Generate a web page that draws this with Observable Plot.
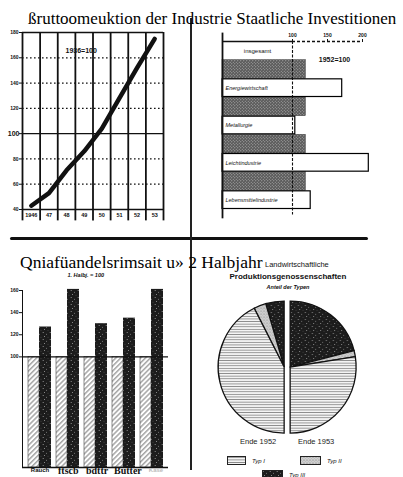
<!DOCTYPE html>
<html><head><meta charset="utf-8">
<script src="https://cdn.jsdelivr.net/npm/d3@7"></script>
<script src="https://cdn.jsdelivr.net/npm/@observablehq/plot@0.6"></script>
<style>
body{margin:0;background:#fff;}
#wrap{position:relative;width:403px;height:477px;overflow:hidden;background:#fff;font-family:"Liberation Sans",sans-serif;color:#111;}
#wrap > svg, #wrap > div{position:absolute;}
.ttl{font-family:"Liberation Serif",serif;white-space:nowrap;line-height:1;color:#000;z-index:5;}
.sub{white-space:nowrap;text-align:center;line-height:1;}
</style></head><body>
<svg width="0" height="0" style="position:absolute">
 <defs>
  <pattern id="hatch" patternUnits="userSpaceOnUse" width="3.5" height="3.5" patternTransform="rotate(45)">
    <rect width="3.5" height="3.5" fill="#fff"/>
    <line x1="0.8" y1="0" x2="0.8" y2="3.5" stroke="#777" stroke-width="1"/>
  </pattern>
  <pattern id="darkStip" patternUnits="userSpaceOnUse" width="7" height="7">
    <rect width="7" height="7" fill="#1c1c1c"/>
    <circle cx="1.2" cy="1.5" r="0.6" fill="#9a9a9a"/>
    <circle cx="4.5" cy="3.2" r="0.5" fill="#8a8a8a"/>
    <circle cx="2.5" cy="5.6" r="0.5" fill="#aaa"/>
    <circle cx="6" cy="6.2" r="0.4" fill="#777"/>
  </pattern>
  <pattern id="grayStip" patternUnits="userSpaceOnUse" width="3" height="3">
    <rect width="3" height="3" fill="#5a5a5a"/>
    <circle cx="0.8" cy="0.8" r="0.55" fill="#c8c8c8"/>
    <circle cx="2.3" cy="2.3" r="0.55" fill="#b0b0b0"/>
  </pattern>
  <pattern id="hlines" patternUnits="userSpaceOnUse" width="4" height="2.6">
    <rect width="4" height="2.6" fill="#f4f4f4"/>
    <line x1="0" y1="1.3" x2="4" y2="1.3" stroke="#8a8a8a" stroke-width="0.9"/>
  </pattern>
  <pattern id="lightStip" patternUnits="userSpaceOnUse" width="3" height="3">
    <rect width="3" height="3" fill="#d0d0d0"/>
    <circle cx="1" cy="1" r="0.6" fill="#777"/>
    <circle cx="2.4" cy="2.2" r="0.4" fill="#999"/>
  </pattern>
 </defs>
</svg>
<div id="wrap"></div>
<script>
// ---- data ----
const years = [1946, 1947, 1948, 1949, 1950, 1951, 1952, 1953];
const yearLabels = ["1946", "47", "48", "49", "50", "51", "52", "53"];
const production = [43, 53, 71, 86, 104, 128, 152, 175];
const prodTicks = [40, 60, 80, 100, 120, 140, 160, 180];

const invCategories = ["Energiewirtschaft", "Metallurgie", "Leichtindustrie", "Lebensmittelindustrie"];
const invValues = [171, 104, 209, 126];
const invTotal = 119;
const invTicks = [0, 100, 150, 200];

const tradeGoods = ["Rauch", "ftscb", "bdttr", "Butter", "Käse"];
const tradeFirstHalf = [100, 100, 100, 100, 100];
const tradeSecondHalf = [127, 161, 130, 135, 161];
const tradeTicks = [100, 120, 140, 160];

const lpgTypes = ["Typ I", "Typ II", "Typ III"];
const lpg1952 = [85, 6, 9];
const lpg1953 = [55, 3, 42];

const wrap = document.getElementById("wrap");
const baseStyle = {background: "transparent", overflow: "visible", fontFamily: "'Liberation Sans', sans-serif", fontSize: "5px", fontWeight: "bold", color: "#111"};

function place(el, left, top) { el.style.left = left + "px"; el.style.top = top + "px"; wrap.appendChild(el); return el; }

// ---- panel 1: Bruttoproduktion ----
const boundaries = years.map(y => y - 0.5).concat([years[years.length - 1] + 0.5]);
const prodData = years.map((year, i) => ({year, value: production[i], label: yearLabels[i]}));
const p1 = Plot.plot({
  width: 190, height: 235, marginLeft: 22, marginRight: 27, marginTop: 32, marginBottom: 26,
  style: baseStyle,
  x: {domain: [boundaries[0], boundaries[boundaries.length - 1]], axis: null},
  y: {domain: [prodTicks[0], prodTicks[prodTicks.length - 1]], ticks: prodTicks, tickSize: 3, tickPadding: 1, tickFormat: d => d === 100 ? "" : d, label: null},
  marks: [
    Plot.ruleY(prodTicks.slice(1, -1).filter(d => d !== 100), {strokeDasharray: "1.6,2.4", strokeWidth: 1.3}),
    Plot.ruleY([100], {strokeWidth: 1.3}),
    Plot.ruleY([prodTicks[0], prodTicks[prodTicks.length - 1]], {strokeWidth: 1.4}),
    Plot.ruleX(boundaries, {y1: 31, y2: prodTicks[prodTicks.length - 1], strokeWidth: 1.8}),
    Plot.text(prodData, {x: "year", y: prodTicks[0], text: "label", dy: 6, fontSize: 5.5}),
    Plot.text([100], {x: boundaries[0], y: d => d, text: d => String(d), dx: -3, textAnchor: "end", fontSize: 7}),
    Plot.line(prodData, {x: "year", y: "value", strokeWidth: 4.5}),
    Plot.text(["1936=100"], {frameAnchor: "top-left", dx: 43, dy: 16, fontSize: 7})
  ]
});
place(p1, 0, 0);

// ---- panel 2: Staatliche Investitionen ----
const invRows = [{kind: "head", label: "insgesamt", value: 100}];
invCategories.forEach((c, i) => {
  invRows.push({kind: "total", label: "", value: invTotal});
  invRows.push({kind: "cat", label: c, value: invValues[i]});
});
invRows.forEach((r, i) => { r.y0 = i; r.y1 = i + 1; });
const p2 = Plot.plot({
  width: 208, height: 235, marginLeft: 27, marginRight: 41, marginTop: 41, marginBottom: 26,
  style: baseStyle,
  x: {domain: [0, 200], axis: "top", ticks: invTicks, tickSize: 3, tickPadding: 2, tickFormat: d => d === 0 ? "" : d, label: null},
  y: {domain: [invRows.length, 0], axis: null},
  marks: [
    Plot.rect(invRows.filter(r => r.kind === "total"), {x1: 0, x2: "value", y1: "y0", y2: "y1", fill: "url(#grayStip)", stroke: "#333", strokeWidth: 0.5}),
    Plot.rect(invRows.filter(r => r.kind === "cat"), {x1: 0, x2: "value", y1: "y0", y2: "y1", fill: "white", stroke: "black", strokeWidth: 1.2, insetTop: 0.5, insetBottom: 0.5}),
    Plot.ruleX([100], {y1: 0, y2: invRows.length + 0.3, strokeDasharray: "3,1.5", strokeWidth: 1.1}),
    Plot.ruleX([0], {y1: -0.45, y2: invRows.length + 0.5, strokeWidth: 1.8}),
    Plot.ruleY([0], {x1: 0, x2: 100, strokeWidth: 1.4}),
    Plot.ruleY([0], {x1: 100, x2: 200, strokeWidth: 1.4, strokeDasharray: "3,2"}),
    Plot.text(invRows.filter(r => r.kind === "head"), {x: d => d.value / 2, y: d => (d.y0 + d.y1) / 2, text: "label", fontSize: 6, fontWeight: "normal"}),
    Plot.text(invRows.filter(r => r.kind === "cat"), {x: 0, y: d => (d.y0 + d.y1) / 2, text: "label", dx: 3, textAnchor: "start", fontSize: 5.5, fontStyle: "italic", fontWeight: "normal"}),
    Plot.text(["1952=100"], {x: 160, y: 1, fontSize: 7})
  ]
});
place(p2, 195, 0);

// ---- panel 3: Einzelhandelsumsatz ----
const tradeData = tradeGoods.flatMap((g, i) => [
  {good: g, half: 1, value: tradeFirstHalf[i]},
  {good: g, half: 2, value: tradeSecondHalf[i]}
]);
const p3 = Plot.plot({
  width: 190, height: 237, marginLeft: 22, marginRight: 22, marginTop: 50, marginBottom: 10,
  style: baseStyle,
  x: {domain: tradeGoods, axis: null, paddingInner: 0.19, paddingOuter: 0.15},
  y: {domain: [0, 160], ticks: tradeTicks, tickSize: 3, tickPadding: 1, line: true, label: null},
  marks: [
    Plot.barY(tradeData.filter(d => d.half === 1), {x: "good", y1: 0, y2: "value", fill: "url(#hatch)", stroke: "#444", strokeWidth: 0.6, insetRight: 12}),
    Plot.barY(tradeData.filter(d => d.half === 2), {x: "good", y1: 0, y2: "value", fill: "url(#darkStip)", insetLeft: 11}),
    Plot.ruleY([100], {strokeWidth: 1.3}),
    Plot.ruleY([0], {strokeWidth: 1.5}),
    Plot.text(["1. Halbj. = 100"], {frameAnchor: "top-left", dx: 45, dy: -17, fontSize: 5.5, fontStyle: "italic"}),
    Plot.text(tradeGoods.slice(1, -1), {x: d => d, y: 0, dy: 3, dx: -10, textAnchor: "start", text: d => d, fontFamily: "'Liberation Serif', serif", fontSize: 10}),
    Plot.text(tradeGoods.slice(0, 1), {x: d => d, y: 0, dy: 3, text: d => d, fontSize: 6}),
    Plot.text(tradeGoods.slice(-1), {x: d => d, y: 0, dy: 3, dx: 4, text: d => d, fontSize: 6, fill: "#bbb"})
  ]
});
place(p3, 0, 240);

// ---- panel 4: LPG pies ----
const typeFill = ["url(#hlines)", "url(#lightStip)", "url(#darkStip)"];
const pieData = [
  {label: "Ende 1952", values: lpg1952, dir: -1},
  {label: "Ende 1953", values: lpg1953, dir: 1}
];
const p4 = Plot.plot({
  width: 208, height: 237, margin: 0,
  style: baseStyle,
  marks: [
    (index, scales, values, dims) => {
      const g = d3.create("svg:g");
      const cx = dims.width * 0.443, cy = dims.height * 0.536, r = 66, gap = 3;
      const arc = d3.arc().innerRadius(0).outerRadius(r);
      pieData.forEach(p => {
        const order = [2, 1, 0]; // Typ III starts at the top
        const arcs = d3.pie().sort(null).value(i => p.values[i]).startAngle(0).endAngle(p.dir * Math.PI)(order);
        const gg = g.append("g").attr("transform", `translate(${cx + p.dir * gap},${cy})`);
        gg.selectAll("path").data(arcs).join("path")
          .attr("d", arc).attr("fill", a => typeFill[a.data])
          .attr("stroke", "#111").attr("stroke-width", 1.3);
        gg.append("text").attr("x", p.dir * 26).attr("y", r + 11)
          .attr("text-anchor", "middle").attr("font-size", 7.5).attr("font-weight", "normal")
          .attr("fill", "#222").text(p.label);
      });
      return g.node();
    }
  ]
});
place(p4, 195, 240);

// subtitles of panel 4
const sub1 = document.createElement("div");
sub1.style.cssText = "font-size:7.5px;white-space:nowrap;line-height:1;";
sub1.textContent = "Landwirtschaftliche";
place(sub1, 265, 261);
const sub = document.createElement("div");
sub.className = "sub";
sub.style.width = "200px";
sub.innerHTML = '<div style="font-size:8px;font-weight:bold;">Produktionsgenossenschaften</div>' +
  '<div style="font-size:5.5px;font-style:italic;font-weight:bold;margin-top:4px;">Anteil der Typen</div>';
place(sub, 188, 272.5);

// legend
function swatch(i, left, top, w) {
  const d = document.createElement("div");
  d.style.whiteSpace = "nowrap";
  d.innerHTML = `<svg width="${w}" height="9" style="vertical-align:middle"><rect x="0.5" y="0.5" width="${w - 1}" height="8" fill="${typeFill[i]}" stroke="#222"/></svg>` +
    `<span style="font-size:6px;font-style:italic;margin-left:6px;vertical-align:middle">${lpgTypes[i]}</span>`;
  place(d, left, top);
}
swatch(0, 227, 451, 19);
swatch(1, 300, 451, 21);
swatch(2, 262, 465, 21);

// separators
const hsep = document.createElement("div");
hsep.style.cssText = "width:358px;height:3px;background:#111;border-radius:2px;";
place(hsep, 10, 237);
const vsep = document.createElement("div");
vsep.style.cssText = "width:1.5px;height:452px;background:#222;";
place(vsep, 190, 18);

// OCR-style titles (on top)
const t1 = document.createElement("div");
t1.className = "ttl"; t1.style.fontSize = "17px";
t1.textContent = "ßruttoomeuktion der Industrie Staatliche Investitionen";
place(t1, 28, 10);
const t2 = document.createElement("div");
t2.className = "ttl"; t2.style.fontSize = "17.5px";
t2.textContent = "Qniafüandelsrimsait u» 2 Halbjahr";
place(t2, 20, 254);
</script>
</body></html>
